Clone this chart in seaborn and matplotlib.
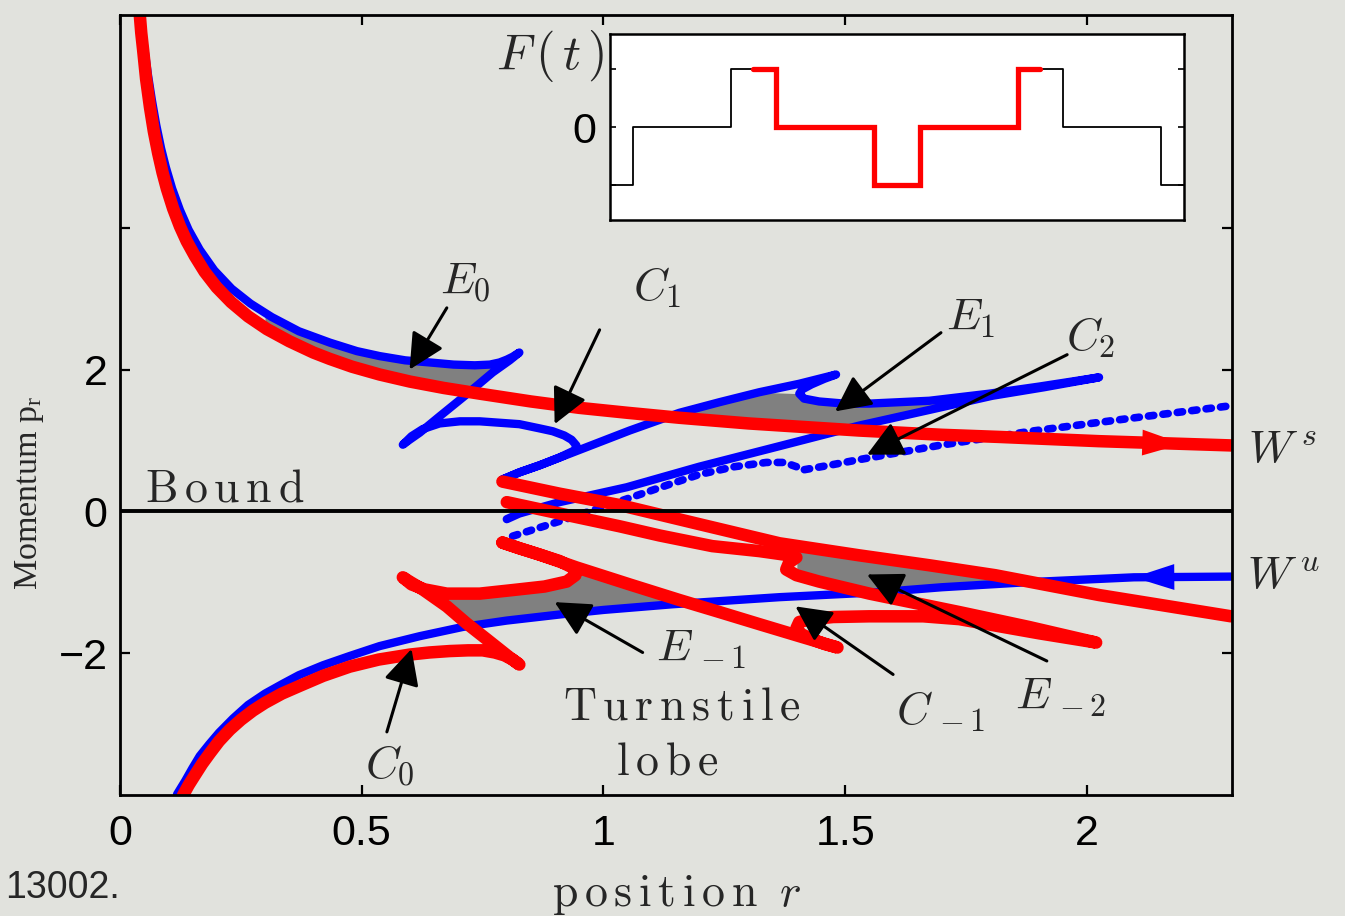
import numpy as np
import matplotlib
matplotlib.use("Agg")
import matplotlib.pyplot as plt
import seaborn as sns

# ---------------- phase-space data: position r, momentum p_r ----------------
# stable manifold W^s (red), coming down from small r
ws_r = [0.041, 0.044, 0.048, 0.054, 0.062, 0.070, 0.079, 0.088, 0.097, 0.110,
        0.124, 0.138, 0.155, 0.175, 0.200, 0.230, 0.265, 0.304, 0.350, 0.400,
        0.434, 0.480, 0.537, 0.600, 0.670, 0.744, 0.850, 0.950, 1.050, 1.157,
        1.300, 1.529, 1.700, 1.818, 2.025, 2.298]
ws_p = [7.00, 6.75, 6.50, 6.10, 5.70, 5.36, 5.05, 4.78, 4.55, 4.27,
        4.02, 3.81, 3.60, 3.38, 3.16, 2.95, 2.75, 2.57, 2.40, 2.24,
        2.15, 2.04, 1.93, 1.83, 1.74, 1.66, 1.55, 1.46, 1.39, 1.32,
        1.24, 1.14, 1.08, 1.05, 0.99, 0.93]

# unstable manifold W^u (blue), leaving towards small r
wu_r = [2.298, 2.097, 1.874, 1.700, 1.570, 1.364, 1.143, 1.000, 0.915, 0.800,
        0.709, 0.620, 0.537, 0.475, 0.420, 0.370, 0.337, 0.300, 0.265, 0.234,
        0.205, 0.185, 0.165, 0.150, 0.135, 0.118]
wu_p = [-0.92, -0.93, -1.00, -1.07, -1.14, -1.21, -1.31, -1.39, -1.45, -1.54,
        -1.63, -1.76, -1.90, -2.04, -2.17, -2.31, -2.43, -2.57, -2.73, -2.92,
        -3.12, -3.28, -3.45, -3.62, -3.80, -3.99]

# folded blue manifold (upper half), traced piece by piece
bf_main_r = [0.041, 0.046, 0.052, 0.058, 0.066, 0.075, 0.085, 0.095, 0.108, 0.124,
             0.142, 0.165, 0.195, 0.231, 0.270, 0.314, 0.370, 0.434, 0.490, 0.537,
             0.590, 0.641, 0.690, 0.734, 0.765, 0.785, 0.800, 0.812, 0.826]
bf_main_p = [7.00, 6.75, 6.45, 6.15, 5.80, 5.45, 5.12, 4.85, 4.55, 4.25,
             3.97, 3.69, 3.40, 3.14, 2.93, 2.74, 2.54, 2.38, 2.26, 2.19,
             2.13, 2.10, 2.07, 2.06, 2.07, 2.10, 2.14, 2.18, 2.24]
bf_diag_r = [0.806, 0.771, 0.717, 0.661, 0.620, 0.599, 0.585]
bf_diag_p = [2.13, 1.96, 1.65, 1.34, 1.11, 1.01, 0.94]
bf_back_r = [0.603, 0.626, 0.661, 0.703, 0.744, 0.785, 0.826, 0.868, 0.895, 0.919,
             0.934, 0.944, 0.940, 0.909, 0.868, 0.826, 0.791]
bf_back_p = [1.06, 1.16, 1.24, 1.27, 1.27, 1.25, 1.23, 1.17, 1.13, 1.07,
             1.01, 0.93, 0.86, 0.76, 0.65, 0.55, 0.45]
bf_b4_r = [0.826, 0.868, 0.944, 1.054, 1.157, 1.240, 1.322, 1.405, 1.481]
bf_b4_p = [0.55, 0.65, 0.85, 1.14, 1.39, 1.54, 1.68, 1.80, 1.93]
bf_hook_r = [1.457, 1.430, 1.411, 1.405, 1.415, 1.446, 1.498, 1.550, 1.612, 1.674,
             1.736, 1.798, 1.901, 2.025]
bf_hook_p = [1.87, 1.79, 1.72, 1.66, 1.59, 1.55, 1.52, 1.52, 1.54, 1.56,
             1.61, 1.66, 1.76, 1.89]
bf_lower_r = [1.911, 1.804, 1.680, 1.529, 1.364, 1.198, 1.048, 0.909, 0.826, 0.800]
bf_lower_p = [1.75, 1.63, 1.44, 1.21, 0.92, 0.63, 0.34, 0.13, -0.03, -0.11]
bf_tail_r = [0.812, 0.909, 1.033, 1.136, 1.198, 1.271, 1.337, 1.374, 1.399, 1.409,
             1.467, 1.529, 1.694, 1.884, 2.087, 2.298]
bf_tail_p = [-0.35, -0.14, 0.14, 0.38, 0.52, 0.63, 0.69, 0.69, 0.63, 0.58,
             0.65, 0.73, 0.93, 1.13, 1.31, 1.49]

# folded red manifold (lower half)
rf_main_r = [0.130, 0.142, 0.155, 0.170, 0.186, 0.205, 0.227, 0.250, 0.275, 0.300,
             0.335, 0.372, 0.420, 0.475, 0.535, 0.599, 0.640, 0.682, 0.720, 0.750,
             0.775, 0.795, 0.812, 0.826]
rf_main_p = [-4.01, -3.86, -3.72, -3.56, -3.41, -3.24, -3.08, -2.94, -2.81, -2.70,
             -2.57, -2.46, -2.32, -2.19, -2.09, -2.02, -1.99, -1.97, -1.96, -1.96,
             -1.99, -2.03, -2.09, -2.16]
rf_diag_r = [0.806, 0.758, 0.717, 0.676, 0.626, 0.599, 0.585]
rf_diag_p = [-2.06, -1.80, -1.58, -1.34, -1.10, -0.99, -0.93]
rf_back_r = [0.603, 0.630, 0.676, 0.744, 0.812, 0.878, 0.924, 0.942, 0.944, 0.909,
             0.868, 0.826, 0.791]
rf_back_p = [-1.03, -1.10, -1.16, -1.16, -1.11, -1.06, -0.99, -0.90, -0.82, -0.70,
             -0.61, -0.52, -0.44]
rf_r3_r = [0.826, 0.868, 0.944, 1.054, 1.157, 1.240, 1.322, 1.405, 1.484]
rf_r3_p = [-0.52, -0.61, -0.79, -1.03, -1.25, -1.42, -1.59, -1.76, -1.92]
rf_hook_r = [1.457, 1.430, 1.409, 1.399, 1.405, 1.430, 1.475, 1.550, 1.661, 1.736,
             1.810, 1.901, 2.019]
rf_hook_p = [-1.87, -1.80, -1.73, -1.65, -1.56, -1.52, -1.49, -1.48, -1.48, -1.52,
             -1.61, -1.72, -1.85]
rf_lower_r = [1.880, 1.736, 1.550, 1.446, 1.399, 1.378, 1.384, 1.399, 1.374, 1.322,
              1.225, 1.116, 1.033, 0.909, 0.800]
rf_lower_p = [-1.63, -1.42, -1.16, -0.99, -0.90, -0.82, -0.72, -0.65, -0.61, -0.56,
              -0.49, -0.34, -0.21, -0.03, 0.13]
rf_tail_r = [0.791, 0.909, 1.033, 1.198, 1.364, 1.529, 1.674, 1.810, 2.025, 2.298]
rf_tail_p = [0.42, 0.25, 0.09, -0.18, -0.45, -0.62, -0.76, -0.90, -1.18, -1.48]

# square-wave driving force F(t) for the inset
t_force = [0.0, 0.04, 0.21, 0.29, 0.46, 0.54, 0.71, 0.79, 0.96, 1.0]
f_force = [-1, 0, 1, 0, -1, 0, 1, 0, -1, -1]
t_window = [0.25, 0.29, 0.46, 0.54, 0.71, 0.75]
f_window = [1, 0, -1, 0, 1, 1]

x_ticks = [0, 0.5, 1, 1.5, 2]
x_ticklabels = ["0", "0.5", "1", "1.5", "2"]
y_ticks = [-2, 0, 2, 4]
y_ticklabels = ["\u22122", "0", "2", ""]

# ---------------- style ----------------
BG = "#e1e2dd"
RED = "#ff0000"
BLUE = "#0000ff"
GRAY = "#808080"

sns.set_theme(style="ticks")
plt.rcParams["font.family"] = ["Liberation Sans", "DejaVu Sans"]
plt.rcParams["mathtext.fontset"] = "cm"
plt.rcParams["axes.unicode_minus"] = True

fig = plt.figure(figsize=(13.45, 9.16), dpi=100, facecolor=BG)
ax = fig.add_axes([0.0892, 0.1321, 0.8268, 0.8515])
ax.set_facecolor(BG)
ax.set_xlim(0, 2.3)
ax.set_ylim(-4, 7)


def chain(*segments):
    rs = np.concatenate([np.asarray(s[0], float) for s in segments])
    ps = np.concatenate([np.asarray(s[1], float) for s in segments])
    return rs, ps


def draw(rs, ps, color, lw, z, **kw):
    sns.lineplot(x=np.asarray(rs), y=np.asarray(ps), sort=False, estimator=None,
                 color=color, lw=lw, zorder=z, ax=ax, legend=False, **kw)


def along(r, rs, ps):
    rs = np.asarray(rs, float)
    ps = np.asarray(ps, float)
    o = np.argsort(rs)
    return float(np.interp(r, rs[o], ps[o]))


def lobe(lo, hi, upper, lowers):
    xg = np.linspace(lo, hi, 800)
    ur, up = (np.asarray(v, float) for v in upper)
    o = np.argsort(ur)
    top = np.interp(xg, ur[o], up[o])
    bot = np.full_like(xg, -np.inf)
    for lr, lp in lowers:
        lr = np.asarray(lr, float)
        lp = np.asarray(lp, float)
        o = np.argsort(lr)
        bot = np.maximum(bot, np.interp(xg, lr[o], lp[o], left=-np.inf, right=-np.inf))
    ax.fill_between(xg, bot, top, where=top > bot, interpolate=True,
                    color=GRAY, lw=0, zorder=1)


# shaded lobes
lobe(0.30, 0.824, (bf_main_r, bf_main_p),
     [(ws_r, ws_p), (bf_main_r[-1:] + bf_diag_r, bf_main_p[-1:] + bf_diag_p)])
lobe(1.05, 1.80, (bf_b4_r[:7] + bf_hook_r[3:12], bf_b4_p[:7] + bf_hook_p[3:12]),
     [(ws_r, ws_p), (bf_lower_r, bf_lower_p)])
lobe(0.60, 1.20, (rf_back_r[:9] + rf_r3_r[3:], rf_back_p[:9] + rf_r3_p[3:]),
     [(wu_r, wu_p), (rf_main_r[-1:] + rf_diag_r, rf_main_p[-1:] + rf_diag_p)])
lobe(1.40, 2.10, (rf_tail_r, rf_tail_p),
     [(wu_r, wu_p), (rf_lower_r[:5], rf_lower_p[:5])])

solid = dict(solid_capstyle="round", solid_joinstyle="round")

# blue manifolds
draw(wu_r, wu_p, BLUE, 6, 2, **solid)
br, bp = chain((bf_main_r, bf_main_p), (bf_diag_r, bf_diag_p), (bf_back_r, bf_back_p),
               (bf_b4_r, bf_b4_p), (bf_hook_r, bf_hook_p), (bf_lower_r, bf_lower_p))
draw(br, bp, BLUE, 6, 2, **solid)
draw(bf_tail_r, bf_tail_p, BLUE, 5.5, 2, linestyle=(0, (0.7, 1.2)),
     dash_capstyle="round")

# red manifolds
draw(ws_r, ws_p, RED, 9, 3, **solid)
rr, rp = chain((rf_main_r, rf_main_p), (rf_diag_r, rf_diag_p), (rf_back_r, rf_back_p),
               (rf_r3_r, rf_r3_p), (rf_hook_r, rf_hook_p), (rf_lower_r, rf_lower_p))
draw(rr, rp, RED, 9, 3, **solid)
draw(rf_tail_r, rf_tail_p, RED, 9, 3, **solid)

# direction arrows on the two branches
for (r0, r1), (cr, cp), col in [((2.116, 2.198), (ws_r, ws_p), RED),
                                ((2.180, 2.097), (wu_r, wu_p), BLUE)]:
    ax.annotate("", xy=(r1, along(r1, cr, cp)), xytext=(r0, along(r0, cr, cp)),
                arrowprops=dict(arrowstyle="-|>,head_length=0.97,head_width=0.31",
                                mutation_scale=30, color=col, lw=0,
                                shrinkA=0, shrinkB=0), zorder=4)

# bound / unbound separatrix
ax.axhline(0, color="black", lw=2.8, zorder=5)

# axes cosmetics
for s in ax.spines.values():
    s.set_linewidth(2.0)
    s.set_color("black")
    s.set_zorder(6)
ax.set_xticks(x_ticks, x_ticklabels)
ax.set_yticks(y_ticks, y_ticklabels)
ax.tick_params(direction="in", length=7, width=1.6, top=True, right=True,
               labelsize=31, colors="black")
ax.tick_params(axis="x", pad=14)
ax.tick_params(axis="y", pad=9)
ax.set_xlabel("")
ax.set_ylabel("")

# lobe annotations
FS = 33
arrow_kw = dict(arrowstyle="-|>,head_length=0.4,head_width=0.2", mutation_scale=55,
                color="black", lw=2.2, shrinkA=0, shrinkB=0)
callouts = [
    (r"$E_{0}$", (0.715, 3.24), (0.676, 2.87), (0.599, 2.00)),
    (r"$C_{1}$", (1.110, 3.15), (0.992, 2.56), (0.899, 1.23)),
    (r"$E_{1}$", (1.760, 2.73), (1.698, 2.52), (1.479, 1.41)),
    (r"$C_{2}$", (2.008, 2.45), (1.959, 2.21), (1.545, 0.80)),
    (r"$E_{\,-1}$", (1.202, -1.94), (1.081, -1.99), (0.899, -1.28)),
    (r"$C_{\,-1}$", (1.698, -2.82), (1.599, -2.30), (1.397, -1.34)),
    (r"$E_{\,-2}$", (1.946, -2.62), (1.917, -2.11), (1.545, -0.89)),
    (r"$C_{0}$", (0.558, -3.59), (0.552, -3.11), (0.603, -1.94)),
]
for label, txy, tail, tip in callouts:
    ax.text(*txy, label, fontsize=FS, ha="center", va="center", zorder=7)
    ax.annotate("", xy=tip, xytext=tail, arrowprops=arrow_kw, zorder=7)

ax.text(2.403, 0.845, r"$W^{\,s}$", fontsize=FS, ha="center", va="center", clip_on=False)
ax.text(2.407, -0.93, r"$W^{\,u}$", fontsize=FS, ha="center", va="center", clip_on=False)
ax.text(0.052, 0.31, r"$\mathrm{B\,o\,u\,n\,d}$", fontsize=FS, ha="left", va="center")
ax.text(1.163, -2.76, r"$\mathrm{T\,u\,r\,n\,s\,t\,i\,l\,e}$", fontsize=FS,
        ha="center", va="center")
ax.text(1.132, -3.54, r"$\mathrm{l\,o\,b\,e}$", fontsize=FS, ha="center", va="center")

# axis titles
fig.text(677 / 1345, 1 - 895 / 916, r"$\mathrm{p\,o\,s\,i\,t\,i\,o\,n}\;\;r$",
         fontsize=FS, ha="center", va="center")
fig.text(30 / 1345, 1 - 493 / 916, r"Momentum $\mathregular{p_r}$", fontsize=24.5,
         rotation=90, ha="center", va="center",
         family=["Liberation Serif", "DejaVu Serif"])
fig.text(5 / 1345, 1 - 888 / 916, "13002.", fontsize=27, ha="left", va="center",
         family=["Liberation Sans Narrow", "Liberation Sans", "DejaVu Sans"])

# ---------------- inset: driving force ----------------
axi = fig.add_axes([0.4535, 0.7598, 0.4268, 0.2031])
axi.set_facecolor("white")
axi.set_xlim(0, 1)
axi.set_ylim(-1.6, 1.6)
sns.lineplot(x=t_force, y=f_force, sort=False, estimator=None, color="black", lw=1.3,
             drawstyle="steps-post", ax=axi)
sns.lineplot(x=t_window, y=f_window, sort=False, estimator=None, color=RED, lw=3.8,
             drawstyle="steps-post", ax=axi, solid_joinstyle="miter")
for s in axi.spines.values():
    s.set_linewidth(1.8)
    s.set_color("black")
axi.set_xticks([])
axi.set_yticks([-1, 0, 1], ["", "0", ""])
axi.tick_params(axis="y", direction="in", length=4, width=1.2, left=True, right=True,
                labelsize=31, pad=10, colors="black")
axi.set_xlabel("")
axi.set_ylabel("")
axi.text(-0.105, 0.88, r"$F\,(\,t\,)$", transform=axi.transAxes, fontsize=36,
         ha="center", va="center")

fig.savefig("out.png", dpi=100, facecolor=BG)
